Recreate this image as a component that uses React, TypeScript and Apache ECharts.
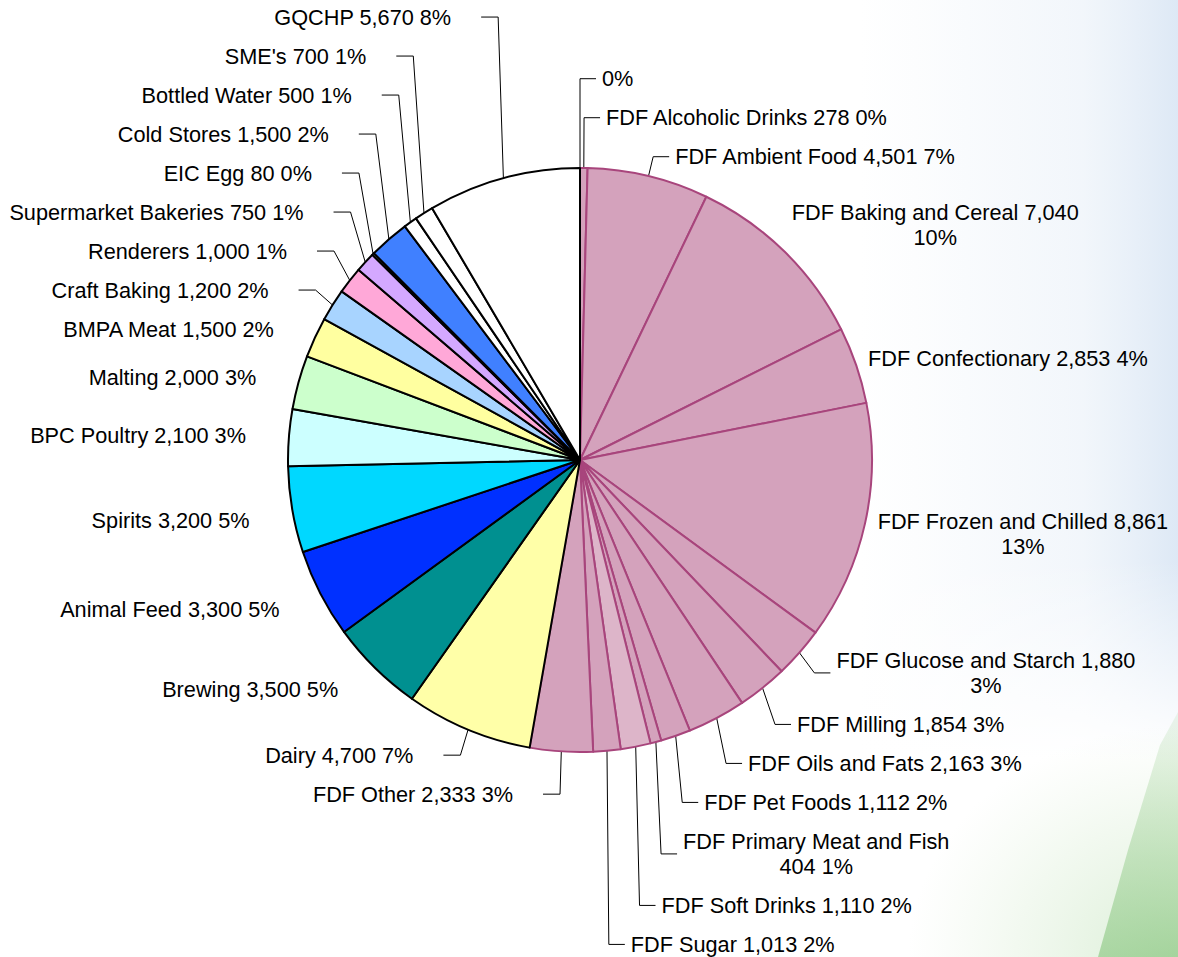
import React, { useEffect, useRef } from "react";
import * as echarts from "echarts";

const names = [
  "",
  "FDF Alcoholic Drinks",
  "FDF Ambient Food",
  "FDF Baking and Cereal",
  "FDF Confectionary",
  "FDF Frozen and Chilled",
  "FDF Glucose and Starch",
  "FDF Milling",
  "FDF Oils and Fats",
  "FDF Pet Foods",
  "FDF Primary Meat and Fish",
  "FDF Soft Drinks",
  "FDF Sugar",
  "FDF Other",
  "Dairy",
  "Brewing",
  "Animal Feed",
  "Spirits",
  "BPC Poultry",
  "Malting",
  "BMPA Meat",
  "Craft Baking",
  "Renderers",
  "Supermarket Bakeries",
  "EIC Egg",
  "Cold Stores",
  "Bottled Water",
  "SME's",
  "GQCHP",
];

const values = [
  0, 278, 4501, 7040, 2853, 8861, 1880, 1854, 2163, 1112, 404, 1110, 1013, 2333,
  4700, 3500, 3300, 3200, 2100, 2000, 1500, 1200, 1000, 750, 80, 1500, 500, 700, 5670,
];

const FDF = "#D4A2BC";
const colors = [
  "#FFFFFF", FDF, FDF, FDF, FDF, FDF, FDF, FDF, FDF, FDF, FDF, "#DDB5C9", FDF, FDF,
  "#FFFFA8", "#009090", "#0030FF", "#00D8FF", "#CCFFFF", "#CCFFCC", "#FFFFA0",
  "#A8D4FF", "#FFA8D8", "#D4A8FF", "#FFFFFF", "#4080FF", "#FFFFFF", "#FFFFFF", "#FFFFFF",
];

const FDF_BORDER = "#A8457C";
const FONT_FAMILY = '"Liberation Sans", Arial, sans-serif';
const FONT_SIZE = 21.7;
const LINE_H = 25;

export default function App() {
  const ref = useRef<HTMLDivElement>(null);
  useEffect(() => {
    document.body.style.margin = "0";
    const chart = echarts.init(ref.current!, null, { renderer: "svg" });

    const cx = 580, cy = 460, R = 292, D = 312;
    const total = values.reduce((a, b) => a + b, 0);

    const ctx = document.createElement("canvas").getContext("2d")!;
    ctx.font = `${FONT_SIZE}px ${FONT_FAMILY}`;
    const measure = (s: string) => ctx.measureText(s).width;
    const wrap = (s: string) => {
      const words = s.split(" ");
      const lines: string[] = [];
      let cur = "";
      for (const w of words) {
        const t = cur ? cur + " " + w : w;
        if (cur && measure(t) > 304) {
          lines.push(cur);
          cur = w;
        } else cur = t;
      }
      lines.push(cur);
      return lines;
    };

    let cum = 0;
    const items = values.map((v, i) => {
      const th = ((cum + v / 2) / total) * Math.PI * 2;
      cum += v;
      const pct = Math.round((v / total) * 100);
      const text = names[i]
        ? `${names[i]} ${v.toLocaleString("en-US")} ${pct}%`
        : `${pct}%`;
      const lines = wrap(text);
      const w = Math.max(...lines.map(measure));
      const h = lines.length * LINE_H;
      const baseY = cy - D * Math.cos(th);
      const lower = baseY >= cy;
      const idealY = lower ? baseY + 7 : baseY - (h - LINE_H) / 2;
      return {
        i,
        th,
        lines,
        w,
        h,
        lower,
        right: th < Math.PI,
        idealX: cx + D * Math.sin(th),
        idealY,
        y: 0,
        leader: false,
        layout: {} as any,
      };
    });

    const stack = (group: typeof items, upper: boolean) => {
      const sorted = [...group].sort((a, b) =>
        upper ? b.idealY - a.idealY : a.idealY - b.idealY
      );
      let prev: (typeof items)[number] | null = null;
      for (const it of sorted) {
        let y = it.idealY;
        if (prev) {
          const sp = (prev.h + it.h) / 2 + 14;
          y = upper ? Math.min(y, prev.y - sp) : Math.max(y, prev.y + sp);
        }
        it.y = y;
        prev = it;
      }
    };
    for (const side of [true, false]) {
      const g = items.filter((it) => it.right === side);
      stack(g.filter((it) => !it.lower), true);
      stack(g.filter((it) => it.lower), false);
    }

    const touchesPie = (left: number, top: number, w: number, h: number) => {
      const nx = Math.max(left, Math.min(cx, left + w));
      const ny = Math.max(top, Math.min(cy, top + h));
      return Math.hypot(nx - cx, ny - cy) < R + 4;
    };

    for (const it of items) {
      const plainLeft = it.right ? it.idealX - 7 : it.idealX - 23 - it.w;
      const shifted = Math.abs(it.y - it.idealY) > 2;
      it.leader =
        shifted ||
        Math.abs(Math.cos(it.th)) > 0.9 ||
        touchesPie(plainLeft, it.y - it.h / 2, it.w, it.h);
      const multi = it.lines.length > 1;
      let left: number;
      if (!it.leader) left = plainLeft;
      else left = it.right ? it.idealX + 22 : it.idealX - 47 - it.w;
      const lay: any = {
        x: multi ? left + it.w / 2 : it.right ? left : left + it.w,
        y: it.y,
        align: multi ? "center" : it.right ? "left" : "right",
        verticalAlign: "middle",
      };
      if (it.leader) {
        const ax = cx + R * Math.sin(it.th);
        const ay = cy - R * Math.cos(it.th);
        const legEnd = it.right ? it.idealX + 16 : it.idealX - 17;
        lay.labelLinePoints = [
          [ax, ay],
          [it.idealX, it.y],
          [legEnd, it.y],
        ];
      }
      it.layout = lay;
    }

    const data = names.map((n, i) => ({
      name: n,
      value: values[i],
      itemStyle: {
        color: colors[i],
        borderColor: n.startsWith("FDF") ? FDF_BORDER : "#000000",
        borderWidth: 2,
      },
      labelLine: { show: items[i].leader },
    }));

    chart.setOption({
      animation: false,
      backgroundColor: "#FFFFFF",
      graphic: [
        {
          type: "rect",
          silent: true,
          z: -10,
          shape: { x: 860, y: 0, width: 318, height: 760 },
          style: {
            fill: new echarts.graphic.LinearGradient(0, 0, 1, 0, [
              { offset: 0, color: "rgba(225,235,246,0)" },
              { offset: 0.7, color: "rgba(222,233,245,0.4)" },
              { offset: 1, color: "rgba(210,225,242,0.75)" },
            ]),
          },
        },
        {
          type: "rect",
          silent: true,
          z: -9,
          shape: { x: 860, y: 560, width: 318, height: 200 },
          style: {
            fill: new echarts.graphic.LinearGradient(0, 0, 0, 1, [
              { offset: 0, color: "rgba(255,255,255,0)" },
              { offset: 1, color: "rgba(255,255,255,1)" },
            ]),
          },
        },
        {
          type: "rect",
          silent: true,
          z: -9,
          shape: { x: 878, y: 700, width: 300, height: 257 },
          style: {
            fill: new echarts.graphic.RadialGradient(1, 1, 0.9, [
              { offset: 0, color: "rgba(170,215,160,0.45)" },
              { offset: 0.6, color: "rgba(190,225,180,0.2)" },
              { offset: 1, color: "rgba(200,230,190,0)" },
            ]),
          },
        },
        {
          type: "polygon",
          silent: true,
          z: -8,
          shape: {
            points: [
              [1098, 957], [1128, 850], [1160, 745], [1178, 712], [1178, 957],
            ],
          },
          style: {
            fill: new echarts.graphic.LinearGradient(0, 0, 0, 1, [
              { offset: 0, color: "rgba(150,205,140,0.15)" },
              { offset: 0.6, color: "rgba(140,200,130,0.45)" },
              { offset: 1, color: "rgba(130,195,120,0.6)" },
            ]),
          },
        },
      ],
      series: [
        {
          type: "pie",
          center: [cx, cy],
          radius: R,
          startAngle: 90,
          clockwise: true,
          avoidLabelOverlap: false,
          data,
          label: {
            show: true,
            position: "outside",
            color: "#000",
            fontFamily: FONT_FAMILY,
            fontSize: FONT_SIZE,
            lineHeight: LINE_H,
            formatter: (p: any) => items[p.dataIndex].lines.join("\n"),
          },
          labelLine: {
            length: 14,
            length2: 14,
            smooth: false,
            lineStyle: { color: "#000", width: 1 },
          },
          labelLayout: (p: any) => items[p.dataIndex].layout,
          emphasis: { disabled: true },
        },
      ],
    });
    return () => chart.dispose();
  }, []);
  return <div ref={ref} style={{ width: 1178, height: 957 }} />;
}
